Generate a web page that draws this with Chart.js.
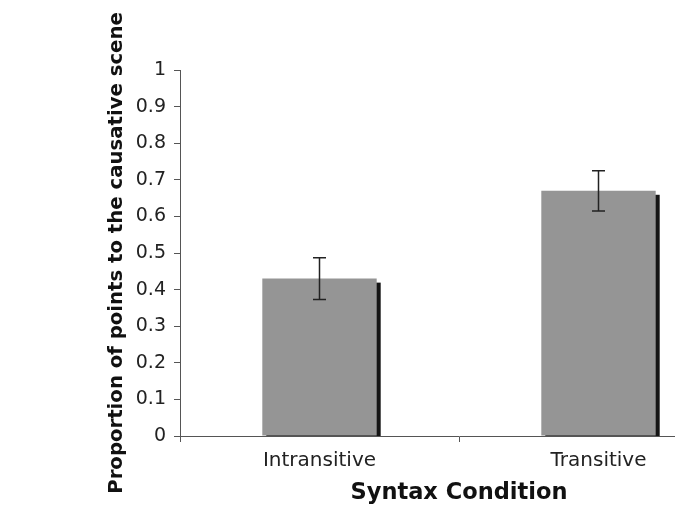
<!DOCTYPE html>
<html>
<head>
<meta charset="utf-8">
<script src="https://cdn.jsdelivr.net/npm/chart.js@4"></script>
<style>
  html, body { margin: 0; padding: 0; background: #fff; overflow: hidden; }
  #wrap { width: 742px; height: 508px; }
</style>
</head>
<body>
<div id="wrap"><canvas id="chart"></canvas></div>
<script>
const categories = ["Intransitive", "Transitive"];
const proportions = [0.43, 0.67];
const errors = [0.057, 0.055];
const yTicks = [0, 0.1, 0.2, 0.3, 0.4, 0.5, 0.6, 0.7, 0.8, 0.9, 1];

// dark offset shadow on the right side of each bar
const barShadow = {
  id: "barShadow",
  beforeDatasetsDraw(chart) {
    const ctx = chart.ctx;
    const base = chart.scales.y.getPixelForValue(0);
    ctx.save();
    ctx.fillStyle = "#151515";
    chart.getDatasetMeta(0).data.forEach(bar => {
      const w = bar.width;
      ctx.fillRect(bar.x - w / 2 + 4, bar.y + 4, w, base - bar.y - 4);
    });
    ctx.restore();
  }
};

const errorBars = {
  id: "errorBars",
  afterDatasetsDraw(chart) {
    const ctx = chart.ctx;
    const y = chart.scales.y;
    ctx.save();
    ctx.strokeStyle = "#222";
    ctx.lineWidth = 1.5;
    chart.getDatasetMeta(0).data.forEach((bar, i) => {
      const top = y.getPixelForValue(proportions[i] + errors[i]);
      const bot = y.getPixelForValue(proportions[i] - errors[i]);
      ctx.beginPath();
      ctx.moveTo(bar.x, top); ctx.lineTo(bar.x, bot);
      ctx.moveTo(bar.x - 6.5, top); ctx.lineTo(bar.x + 6.5, top);
      ctx.moveTo(bar.x - 6.5, bot); ctx.lineTo(bar.x + 6.5, bot);
      ctx.stroke();
    });
    ctx.restore();
  }
};

new Chart(document.getElementById("chart"), {
  type: "bar",
  data: {
    labels: categories,
    datasets: [{
      data: proportions,
      backgroundColor: "#959595",
      borderWidth: 0,
      categoryPercentage: 1,
      barPercentage: 0.41
    }]
  },
  options: {
    responsive: true,
    maintainAspectRatio: false,
    animation: false,
    events: [],
    layout: { padding: { left: 99, right: 4, top: 70, bottom: 0 } },
    plugins: { legend: { display: false }, tooltip: { enabled: false } },
    scales: {
      x: {
        grid: { display: true, drawOnChartArea: false, tickLength: 6, color: "#555" },
        border: { color: "#555", width: 1 },
        ticks: { color: "#222", padding: 7, font: { family: "DejaVu Sans", size: 20 } },
        title: {
          display: true, text: "Syntax Condition", color: "#111",
          padding: { top: 0, bottom: 1 },
          font: { family: "DejaVu Sans", size: 22.5, weight: "bold" }
        },
        afterFit(scale) { scale.height = 72; }
      },
      y: {
        min: 0, max: 1,
        afterBuildTicks(scale) { scale.ticks = yTicks.map(v => ({ value: v })); },
        grid: { display: true, drawOnChartArea: false, tickLength: 6, color: "#555" },
        border: { color: "#555", width: 1 },
        ticks: {
          color: "#222", padding: 8,
          font: { family: "DejaVu Sans", size: 19 },
          callback: v => String(+v.toFixed(1))
        },
        title: {
          display: true, text: "Proportion of points to the causative scene", color: "#111",
          padding: { top: 6, bottom: 0 },
          font: { family: "DejaVu Sans", size: 19.7, weight: "bold" }
        },
        afterFit(scale) { scale.width = 81; }
      }
    }
  },
  plugins: [barShadow, errorBars]
});
</script>
</body>
</html>
